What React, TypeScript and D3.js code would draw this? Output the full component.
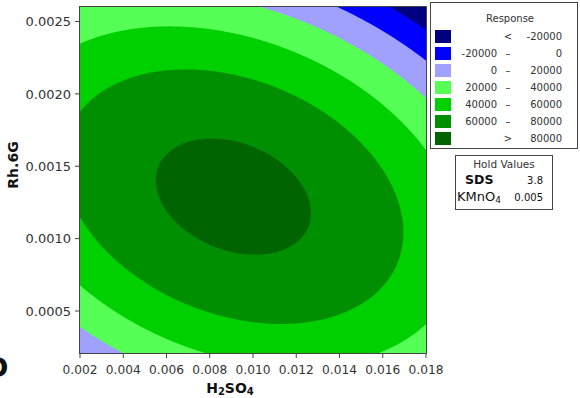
import React from "react";
import * as d3 from "d3";

// axis domains and ticks
const xDomain = [0.002, 0.018];
const yDomain = [0.00021, 0.0026];
const xTicks = [0.002, 0.004, 0.006, 0.008, 0.01, 0.012, 0.014, 0.016, 0.018];
const yTicks = [0.0005, 0.001, 0.0015, 0.002, 0.0025];

// contour levels + band colours (lowest band first)
const levels = [-20000, 0, 20000, 40000, 60000, 80000];
const bandColors = ["#000080", "#0000ff", "#a0a0ff", "#55ff55", "#00d000", "#008f00", "#006400"];
const legendLeft = ["", "-20000", "0", "20000", "40000", "60000", ""];
const legendMid = ["<", "–", "–", "–", "–", "–", ">"];
const legendRight = ["-20000", "0", "20000", "40000", "60000", "80000", "80000"];

// fitted quadratic surface, coded units (-1..1 across each axis)
// b0, H2SO4, Rh.6G, H2SO4^2, Rh.6G^2, H2SO4*Rh.6G
const coef = [84200, -8500, -12200, -28400, -50700, -21300];

const holdNames = ["SDS", "KMnO4"];
const holdValues = ["3.8", "0.005"];

const W = 580, H = 398;
const left = 80, right = 426, top = 7, bottom = 353;
const font = "'DejaVu Sans', Verdana, sans-serif";
const ink = "#333";

const response = (xv: number, yv: number) => {
  const u = (xv - (xDomain[0] + xDomain[1]) / 2) / ((xDomain[1] - xDomain[0]) / 2);
  const v = (yv - (yDomain[0] + yDomain[1]) / 2) / ((yDomain[1] - yDomain[0]) / 2);
  return coef[0] + coef[1] * u + coef[2] * v + coef[3] * u * u + coef[4] * v * v + coef[5] * u * v;
};

const App = () => {
  const x = d3.scaleLinear().domain(xDomain).range([left, right]);
  const y = d3.scaleLinear().domain(yDomain).range([bottom, top]);

  const nx = right - left, ny = bottom - top;
  const values = new Array(nx * ny);
  for (let j = 0; j < ny; j++) {
    for (let i = 0; i < nx; i++) {
      values[j * nx + i] = response(x.invert(left + i + 0.5), y.invert(top + j + 0.5));
    }
  }
  const contours = d3.contours().size([nx, ny]).thresholds(levels)(values);
  const path = d3.geoPath();

  const fmtX = d3.format(".3f");
  const fmtY = d3.format(".4f");

  return (
    <svg width={W} height={H} style={{ position: "absolute", left: 0, top: 0, background: "#fff" }}
      fontFamily={font}>
      {/* bands */}
      <rect x={left} y={top} width={nx} height={ny} fill={bandColors[0]} />
      <g transform={`translate(${left},${top})`}>
        {contours.map((c, k) => (
          <path key={k} d={path(c as any) || ""} fill={bandColors[k + 1]} />
        ))}
      </g>
      <rect x={left - 0.5} y={top - 0.5} width={nx + 1} height={ny + 1} fill="none" stroke="#444" />

      {/* y axis */}
      {yTicks.map(t => (
        <g key={t}>
          <line x1={left - 5} x2={left} y1={y(t)} y2={y(t)} stroke="#444" />
          <text x={71} y={y(t)} dy="0.36em" textAnchor="end" fontSize={13} fill={ink}>{fmtY(t)}</text>
        </g>
      ))}
      <text transform={`translate(18,165) rotate(-90)`} textAnchor="middle" fontSize={14}
        fontWeight="bold" fill="#111">Rh.6G</text>

      {/* x axis */}
      {xTicks.map(t => (
        <g key={t}>
          <line x1={x(t)} x2={x(t)} y1={bottom} y2={bottom + 5} stroke="#444" />
          <text x={x(t)} y={374} textAnchor="middle" fontSize={12.2} fill={ink}>{fmtX(t)}</text>
        </g>
      ))}
      <text x={230} y={393} textAnchor="middle" fontSize={14} fontWeight="bold" fill="#111">
        H<tspan fontSize={10} dy={2}>2</tspan><tspan dy={-2}>SO</tspan><tspan fontSize={10} dy={2}>4</tspan>
      </text>

      {/* edge of neighbouring panel label */}
      <text x={-14} y={377} fontSize={27} fontWeight="bold" fill="#111">D</text>

      {/* legend */}
      <rect x={430.5} y={2.5} width={147} height={146} fill="#fff" stroke="#444" />
      <text x={510} y={22} textAnchor="middle" fontSize={10} fill={ink}>Response</text>
      {bandColors.map((c, k) => {
        const ry = 30 + k * 17;
        return (
          <g key={k}>
            <rect x={435} y={ry} width={16} height={13} fill={c} />
            <text x={497} y={ry + 10} textAnchor="end" fontSize={10} fill={ink}>{legendLeft[k]}</text>
            <text x={508} y={ry + 10} textAnchor="middle" fontSize={10} fill={ink}>{legendMid[k]}</text>
            <text x={562} y={ry + 10} textAnchor="end" fontSize={10} fill={ink}>{legendRight[k]}</text>
          </g>
        );
      })}

      {/* hold values */}
      <rect x={455.5} y={155.5} width={97} height={54} fill="#fff" stroke="#444" />
      <text x={504} y={168} textAnchor="middle" fontSize={10.5} fill={ink}>Hold Values</text>
      <text x={465} y={184} fontSize={12.5} fontWeight="bold" fill="#111">{holdNames[0]}</text>
      <text x={543} y={184} textAnchor="end" fontSize={10} fill="#111">{holdValues[0]}</text>
      <text x={457} y={201} fontSize={13} fill="#111">
        {holdNames[1].slice(0, 4)}<tspan fontSize={9} dy={2}>{holdNames[1].slice(4)}</tspan>
      </text>
      <text x={543} y={201} textAnchor="end" fontSize={10} fill="#111">{holdValues[1]}</text>
    </svg>
  );
};

export default App;
